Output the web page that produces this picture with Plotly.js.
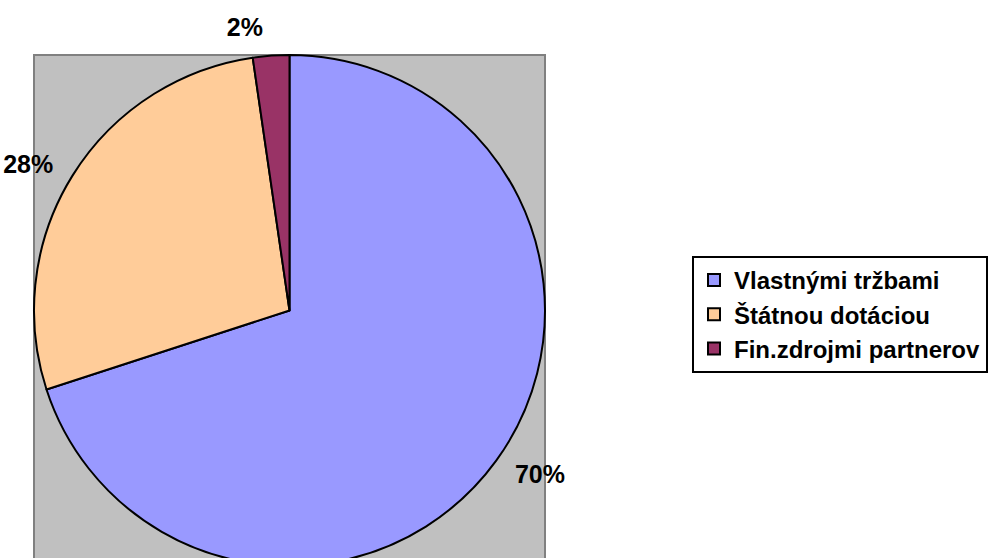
<!DOCTYPE html>
<html>
<head>
<meta charset="utf-8">
<script src="https://cdn.plot.ly/plotly-3.0.1.min.js"></script>
<style>
html,body{margin:0;padding:0;overflow:hidden;background:#fff;width:992px;height:558px;}
#chart{width:992px;height:620px;}
</style>
</head>
<body>
<div id="chart"></div>
<script>
var labels = ["Vlastnými tržbami", "Štátnou dotáciou", "Fin.zdrojmi partnerov"];
var values = [70.0, 27.7, 2.3];
var colors = ["#9999FF", "#FFCC99", "#993366"];

var W = 992, H = 620;
// plot-area box (pixels) and pie geometry
var cx = 289.5, cy = 310.5, R = 255.5, RL = 270;
function dom(r) {
  return {x: [(cx - r) / W, (cx + r) / W], y: [1 - (cy + r) / H, 1 - (cy - r) / H]};
}
var FONT = "Liberation Sans, Arial, sans-serif";

var pie = {
  type: "pie",
  labels: labels,
  values: values,
  sort: false,
  direction: "clockwise",
  rotation: 0,
  marker: {colors: colors, line: {color: "#000000", width: 2}},
  textinfo: "none",
  hoverinfo: "label+percent",
  domain: dom(R)
};

// transparent copy used only to carry the percentage labels a little farther out
var labelPie = {
  type: "pie",
  labels: labels,
  values: values,
  sort: false,
  direction: "clockwise",
  rotation: 0,
  showlegend: false,
  marker: {colors: ["rgba(0,0,0,0)", "rgba(0,0,0,0)", "rgba(0,0,0,0)"], line: {width: 0}},
  textposition: "outside",
  texttemplate: "%{percent:.0%}",
  textfont: {family: FONT, size: 25, color: "#000000", weight: "bold"},
  hoverinfo: "skip",
  domain: dom(RL)
};

var layout = {
  width: W, height: H,
  margin: {l: 0, r: 0, t: 0, b: 0},
  paper_bgcolor: "#ffffff",
  showlegend: true,
  legend: {
    x: 692 / W, y: 1 - 256 / H, xanchor: "left", yanchor: "top",
    bordercolor: "#000000", borderwidth: 2, bgcolor: "#ffffff",
    font: {family: FONT, size: 24, color: "#000000", weight: "bold"}
  },
  shapes: [{
    type: "rect", xref: "paper", yref: "paper", layer: "below",
    x0: (cx - R) / W, x1: (cx + R) / W, y0: 0, y1: 1 - 55 / H,
    fillcolor: "#C0C0C0", line: {color: "#808080", width: 2}
  }]
};

Plotly.newPlot("chart", [pie, labelPie], layout, {displayModeBar: false, staticPlot: true});
</script>
</body>
</html>
